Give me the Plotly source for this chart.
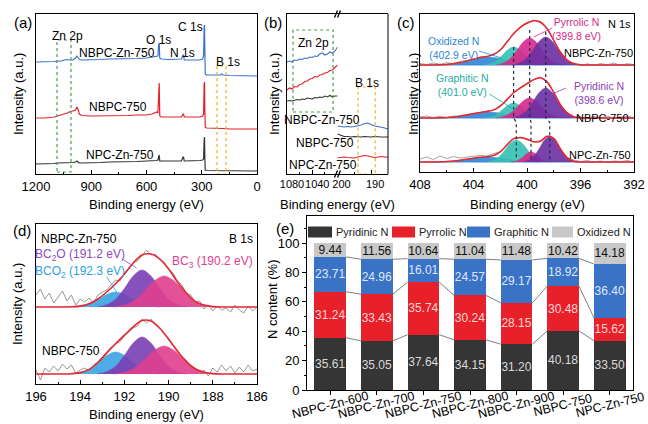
import plotly.graph_objects as go

W, H = 648, 424
FONT = "Arial, Liberation Sans, sans-serif"

# ---------------- (a) XPS survey ----------------
a_be = [1200, 1150, 1100, 1080, 1060, 1045, 1030, 1020, 1000, 985, 978, 972, 965, 950, 900, 850, 800, 750, 700, 650,
        600, 570, 545, 538, 534, 531, 528, 520, 480, 440, 410, 402, 399, 395, 380, 340, 310, 295, 290, 287,
        285, 283, 281, 275, 250, 220, 200, 192, 185, 150, 100, 50, 0]
a_nbpc_zn = [112, 112, 112.5, 113, 113, 114, 114.5, 114, 114, 116, 118, 116.5, 114.5, 114, 114, 114.5, 115, 115, 115.5, 115.5,
             116, 117, 118, 118, 129, 131, 116, 115, 114.5, 114.5, 115, 119, 119, 114, 114, 114, 114, 115, 118, 147,
             149, 124, 100, 99, 99, 99, 99, 100, 99, 98.5, 98.5, 98, 98]
a_nbpc = [56, 56, 57, 58, 59, 60, 61, 62, 63, 64, 67, 65, 60, 58.5, 58, 58, 58, 58.5, 58.5, 59,
          59, 60, 62, 61, 90, 91, 58, 57, 57, 57, 57, 60, 60, 57, 57, 57, 57, 58, 60, 90,
          92, 64, 47, 46, 46, 45.5, 45.5, 46, 45.5, 45, 45, 45, 45]
a_npc_zn = [10, 10, 10.5, 11, 11, 11.5, 11, 11, 11.5, 12, 13, 12, 11, 11, 11, 11.5, 12, 12, 12, 12.5,
            13, 13, 13.5, 14, 18, 19, 13, 13, 13, 13, 13, 17, 17, 13, 13, 13, 13.5, 14, 15, 34,
            37, 14, 4, 3.5, 3.5, 3.5, 3.5, 3.5, 3.5, 3, 3, 3, 3]

# ---------------- (b) zoomed survey (broken axis) ----------------
b_be_zn = [1080, 1076, 1072, 1068, 1064, 1060, 1056, 1052, 1048, 1044, 1040, 1036, 1032, 1028, 1024, 1020,
           1016, 1012, 1008, 1004, 1000]
b_zn_nbpc_zn = [112, 113, 112, 114, 113.5, 115, 114.5, 116, 115.5, 117, 116.5, 118, 117.5, 120, 121, 119,
                120, 122, 121, 123, 127]
b_zn_nbpc = [84, 86, 85, 87.5, 87, 89.5, 90, 92.5, 93, 95, 95.5, 97.5, 97, 99, 99.5, 101,
             101.5, 103.5, 104, 106.5, 109]
b_zn_npc_zn = [73, 73.5, 73, 74, 74.5, 74, 75, 74.5, 76, 75.5, 75, 76.5, 76, 77, 76.5, 78,
               77, 78.5, 77, 78, 78]
b_be_b = [200, 199, 198, 197, 196, 195, 194, 193, 192, 191, 190, 189, 188, 187, 186, 185]
b_b_nbpc_zn = [48, 47.5, 47, 47.5, 47, 47.5, 48, 49, 50.5, 51, 49.5, 48, 47.5, 47, 46, 45]
b_b_nbpc = [40, 38.5, 37.5, 37.5, 37, 37.5, 37, 37, 37.5, 37, 37, 37.5, 37, 37, 37, 37]
b_b_npc_zn = [16, 16.5, 17, 16.5, 16, 16, 17, 18, 18.5, 18, 17, 16.5, 17, 17.5, 17, 17]

# ---------------- (c) N 1s ----------------
c_be = [408, 407.5, 407, 406.5, 406, 405.5, 405, 404.5, 404, 403.5, 403, 402.5, 402, 401.5, 401, 400.5, 400,
        399.5, 399, 398.5, 398, 397.5, 397, 396.5, 396, 395.5, 395, 394.5, 394, 393.5, 393, 392.5, 392]
c_base = [107, 54, 10]          # NBPC-Zn-750, NBPC-750, NPC-Zn-750 offsets
c_env_top = [0, 0.05, 0.1, 0.25, 0.6, 1.3, 2.4, 4, 5.8, 7.4, 8.6, 10.5, 15, 22.9, 31.4, 37.7, 42,
             44.3, 43, 36.3, 24.7, 12.7, 4.9, 1.3, 0.3, 0, 0, 0, 0, 0, 0, 0, 0]
c_raw_top = [1.5, 0.5, 2, 0.8, 2.2, 1.5, 3.5, 4.8, 5.2, 8.2, 8, 11.5, 14.2, 23.8, 30.6, 38.5, 41.2,
             45, 42.2, 37, 24, 13.5, 4.2, 2, -0.5, 1.2, -0.3, 1.5, 0.2, 2, -0.4, 1.3, 0.5]
c_env_mid = [0, 0.03, 0.07, 0.2, 0.45, 1, 1.8, 3, 4.3, 5.5, 6.5, 8.1, 11.9, 18.4, 25.2, 30.1, 34.2,
             38.4, 40.2, 36.1, 25.5, 13.4, 5.1, 1.4, 0.3, 0, 0, 0, 0, 0, 0, 0, 0]
c_raw_mid = [1, 2, 0.5, 1.8, 0.3, 1.8, 2.2, 3.6, 4.8, 5, 7.2, 7.6, 12.8, 17.6, 26, 29.4, 35,
             37.8, 41, 35.4, 26.2, 12.8, 5.8, 1, 1.2, -0.4, 1.5, 0.3, 1.8, -0.2, 1.2, 1.8, 0.4]
c_env_bot = [0, 0.02, 0.07, 0.18, 0.44, 0.9, 1.7, 2.7, 3.8, 4.7, 5.3, 6.5, 10.2, 17.1, 23.4, 24.3, 22.7,
             20.2, 20.6, 25.7, 23.6, 13, 4.2, 0.8, 0.1, 0, 0, 0, 0, 0, 0, 0, 0]
c_raw_bot = [3, 5, 2.5, 6, 3.5, 5.5, 4, 5, 5.5, 6.5, 6, 8, 10.5, 16.5, 23, 25, 23.5,
             20, 21.5, 26, 23.5, 13.5, 4.5, 2, 0.5, 1.5, 0, 1, -0.5, 1, 0.5, 1.5, 0]
# fitted components (top & middle share positions)
c_x_oxid = [406.9, 406.1, 405.3, 404.5, 403.7, 402.9, 402.1, 401.3, 400.5, 399.7, 398.9]
c_x_graph = [403.25, 402.8, 402.35, 401.9, 401.45, 401.0, 400.55, 400.1, 399.65, 399.2, 398.75]
c_x_pyrr = [402.3, 401.8, 401.3, 400.8, 400.3, 399.8, 399.3, 398.8, 398.3, 397.8, 397.3]
c_x_pyrid = [401.1, 400.6, 400.1, 399.6, 399.1, 398.6, 398.1, 397.6, 397.1, 396.6, 396.1]
c_top_oxid = [0, 0.5, 1.7, 4, 6.7, 8, 6.7, 4, 1.7, 0.5, 0]
c_top_graph = [0, 1.1, 3.8, 9, 15.1, 18, 15.1, 9, 3.8, 1.1, 0]
c_top_pyrr = [0, 1.7, 5.7, 13.5, 22.7, 27, 22.7, 13.5, 5.7, 1.7, 0]
c_top_pyrid = [0, 1.75, 5.9, 14, 23.5, 28, 23.5, 14, 5.9, 1.75, 0]
c_mid_oxid = [0, 0.4, 1.3, 3, 5, 6, 5, 3, 1.3, 0.4, 0]
c_mid_graph = [0, 0.9, 3.2, 7.5, 12.6, 15, 12.6, 7.5, 3.2, 0.9, 0]
c_mid_pyrr = [0, 1.25, 4.2, 10, 16.8, 20, 16.8, 10, 4.2, 1.25, 0]
c_mid_pyrid = [0, 1.9, 6.3, 15, 25.2, 30, 25.2, 15, 6.3, 1.9, 0]
c_xb_oxid = [407.0, 406.2, 405.4, 404.6, 403.8, 403.0, 402.2, 401.4, 400.6, 399.8, 399.0]
c_xb_graph = [403.05, 402.6, 402.15, 401.7, 401.25, 400.8, 400.35, 399.9, 399.45, 399.0, 398.55]
c_xb_pyrr = [401.2, 400.9, 400.6, 400.3, 400.0, 399.7, 399.4, 399.1, 398.8, 398.5, 398.2]
c_xb_pyrid = [400.3, 399.9, 399.5, 399.1, 398.7, 398.3, 397.9, 397.5, 397.1, 396.7, 396.3]
c_bot_oxid = [0, 0.3, 1.05, 2.5, 4.2, 5, 4.2, 2.5, 1.05, 0.3, 0]
c_bot_graph = [0, 1.4, 4.6, 11, 18.5, 22, 18.5, 11, 4.6, 1.4, 0]
c_bot_pyrr = [0, 0.6, 2.1, 5, 8.4, 10, 8.4, 5, 2.1, 0.6, 0]
c_bot_pyrid = [0, 1.6, 5.5, 13, 21.8, 26, 21.8, 13, 5.5, 1.6, 0]
c_peak_top = [401.0, 399.8, 398.6]
c_peak_bot = [400.8, 399.7, 398.3]

# ---------------- (d) B 1s ----------------
d_be = [196.0, 195.8, 195.6, 195.4, 195.2, 195.0, 194.8, 194.6, 194.4, 194.2, 194.0, 193.8, 193.6, 193.4, 193.2,
        193.0, 192.8, 192.6, 192.4, 192.2, 192.0, 191.8, 191.6, 191.4, 191.2, 191.0, 190.8, 190.6, 190.4, 190.2,
        190.0, 189.8, 189.6, 189.4, 189.2, 189.0, 188.8, 188.6, 188.4, 188.2, 188.0, 187.8, 187.6, 187.4, 187.2,
        187.0, 186.8, 186.6, 186.4, 186.2, 186.0]
d_base = [77, 10]               # NBPC-Zn-750, NBPC-750 offsets
d_raw_top = [12, 18, 8, 14, 4, 10, 16, 6, 12, 2, 8, 5, 9, 4, 12, 15, 17, 22, 27, 26, 34, 38, 44, 46, 52,
             57, 52, 53, 47, 45, 38, 34, 26, 22, 14, 12, 5, 6, -2, 2, -4, 1, -3, -1, -5, 2, -3, -6, 1, -4, 0]
d_raw_bot = [4, -6, 6, 2, 8, 3, 10, 5, 9, 1, 4, 6, 3, 9, 12, 17, 22, 27, 30, 32, 38, 42, 46, 48, 55,
             51, 55, 49, 46, 40, 36, 28, 24, 17, 14, 7, 6, 1, 4, -2, 6, 2, 9, 3, 8, 1, 7, 2, 9, 3, 5]
d_env_x = [196, 195, 194.4, 194.0, 193.6, 193.2, 192.8, 192.4, 192.0, 191.6, 191.2, 190.8, 190.4, 190.0,
           189.6, 189.2, 188.8, 188.4, 188.0, 187.5, 186]
d_env_top = [0, 0, 0.2, 0.9, 3.2, 8, 15, 23.3, 33, 44, 52, 53, 48, 38, 25, 14, 5.7, 1.9, 0.4, 0, 0]
d_env_bot = [0, 0, 0.3, 1.4, 4.6, 11.5, 20.9, 30.3, 38.8, 47.2, 53.5, 52.9, 45.8, 34.8, 22.8, 12.4, 5.2, 1.75, 0.4, 0, 0]
d_x_bco2 = [194.4, 194.0, 193.6, 193.2, 192.8, 192.4, 192.0, 191.6, 191.2, 190.8, 190.4]
d_x_bc2o = [193.2, 192.8, 192.4, 192.0, 191.6, 191.2, 190.8, 190.4, 190.0, 189.6, 189.2]
d_x_bc3 = [192.45, 192.0, 191.55, 191.1, 190.65, 190.2, 189.75, 189.3, 188.85, 188.4, 187.95]
d_top_bco2 = [0, 0.9, 3.2, 7.5, 12.6, 15, 12.6, 7.5, 3.2, 0.9, 0]
d_top_bc2o = [0, 2.3, 7.8, 18.5, 31, 37, 31, 18.5, 7.8, 2.3, 0]
d_top_bc3 = [0, 1.9, 6.5, 15.5, 26, 31, 26, 15.5, 6.5, 1.9, 0]
d_bot_bco2 = [0, 1.4, 4.6, 11, 18.5, 22, 18.5, 11, 4.6, 1.4, 0]
d_bot_bc2o = [0, 2.3, 7.8, 18.5, 31, 37, 31, 18.5, 7.8, 2.3, 0]
d_bot_bc3 = [0, 1.75, 5.9, 14, 23.5, 28, 23.5, 14, 5.9, 1.75, 0]

# ---------------- (e) N content ----------------
e_samples = ["NBPC-Zn-600", "NBPC-Zn-700", "NBPC-Zn-750", "NBPC-Zn-800", "NBPC-Zn-900", "NBPC-750", "NPC-Zn-750"]
e_pyridinic = [35.61, 35.05, 37.64, 34.15, 31.20, 40.18, 33.50]
e_pyrrolic = [31.24, 33.43, 35.74, 30.24, 28.15, 30.48, 15.62]
e_graphitic = [23.71, 24.96, 16.01, 24.57, 29.17, 18.92, 36.40]
e_oxidized = [9.44, 11.56, 10.64, 11.04, 11.48, 10.42, 14.18]

# =========================================================
BLUE, RED, DARK = "#3b73c6", "#e42129", "#333333"
C_OXID, C_GRAPH, C_PYRR, C_PYRID = "#2f86d6", "#35c0b2", "#d8288c", "#6b2fa3"
D_BCO2, D_BC2O, D_BC3 = "#3aa3e3", "#7a3fb3", "#e0408f"
ENV = "#e8262d"
GRAY = "#8c8c8c"

fig = go.Figure()


def line(x, y, color, width, xa, ya, shape="linear", dash=None):
    fig.add_trace(go.Scatter(x=x, y=y, mode="lines", line=dict(color=color, width=width, shape=shape, dash=dash),
                             xaxis=xa, yaxis=ya, showlegend=False, hoverinfo="skip"))


def comp(x, rel, base, color, xa, ya):
    fig.add_trace(go.Scatter(x=x, y=[base + v for v in rel], mode="lines", fill="toself", fillcolor=color,
                             line=dict(color=color, width=0.6, shape="spline"), opacity=0.9,
                             xaxis=xa, yaxis=ya, showlegend=False, hoverinfo="skip"))


# (a)
for ys, col in [(a_nbpc_zn, BLUE), (a_nbpc, RED), (a_npc_zn, DARK)]:
    line(a_be, ys, col, 1.2, "x", "y")

# (b)
for ys, col in [(b_zn_nbpc_zn, BLUE), (b_zn_nbpc, RED), (b_zn_npc_zn, DARK)]:
    line(b_be_zn, ys, col, 1.1, "x2", "y2")
for ys, col in [(b_b_nbpc_zn, BLUE), (b_b_nbpc, DARK), (b_b_npc_zn, RED)]:
    line(b_be_b, ys, col, 1.1, "x3", "y2")

# (c)
c_sets = [
    (c_base[0], [(c_x_oxid, c_top_oxid, C_OXID), (c_x_graph, c_top_graph, C_GRAPH),
                 (c_x_pyrr, c_top_pyrr, C_PYRR), (c_x_pyrid, c_top_pyrid, C_PYRID)], c_env_top, c_raw_top),
    (c_base[1], [(c_x_oxid, c_mid_oxid, C_OXID), (c_x_graph, c_mid_graph, C_GRAPH),
                 (c_x_pyrr, c_mid_pyrr, C_PYRR), (c_x_pyrid, c_mid_pyrid, C_PYRID)], c_env_mid, c_raw_mid),
    (c_base[2], [(c_xb_oxid, c_bot_oxid, C_OXID), (c_xb_graph, c_bot_graph, C_GRAPH),
                 (c_xb_pyrr, c_bot_pyrr, C_PYRR), (c_xb_pyrid, c_bot_pyrid, C_PYRID)], c_env_bot, c_raw_bot),
]
for base, comps, env, raw in c_sets:
    line([c_be[0], c_be[-1]], [base, base], "#4a8fe0", 1.0, "x4", "y4")
    for xs, rel, col in comps:
        comp(xs, rel, base, col, "x4", "y4")
    line(c_be, [base + v for v in raw], GRAY, 0.8, "x4", "y4")
    line(c_be, [base + v for v in env], ENV, 1.5, "x4", "y4", shape="spline")
# dotted peak-position guides
for top_be, bot_be, y_top in zip(c_peak_top, c_peak_bot, [125, 142, 140]):
    line([top_be, top_be, bot_be, bot_be], [y_top, c_base[1], c_base[1] - 4, c_base[2] + 2],
         "#1d2f4a", 1.2, "x4", "y4", dash="dot")

# (d)
d_sets = [
    (d_base[0], [(d_x_bco2, d_top_bco2, D_BCO2), (d_x_bc2o, d_top_bc2o, D_BC2O), (d_x_bc3, d_top_bc3, D_BC3)],
     d_env_top, d_raw_top),
    (d_base[1], [(d_x_bco2, d_bot_bco2, D_BCO2), (d_x_bc2o, d_bot_bc2o, D_BC2O), (d_x_bc3, d_bot_bc3, D_BC3)],
     d_env_bot, d_raw_bot),
]
for base, comps, env, raw in d_sets:
    for xs, rel, col in comps:
        comp(xs, rel, base, col, "x5", "y5")
    line(d_be, [base + v for v in raw], GRAY, 0.9, "x5", "y5")
    line(d_env_x, [base + v for v in env], ENV, 1.6, "x5", "y5", shape="spline")

# (e)
totals = [a + b + c + d for a, b, c, d in zip(e_pyridinic, e_pyrrolic, e_graphitic, e_oxidized)]
xpos = list(range(len(e_samples)))
BW = 0.68
series = [("Pyridinic N", e_pyridinic, "#353535", "#d9d9d9"),
          ("Pyrrolic N", e_pyrrolic, "#e8202a", "#ffd6d6"),
          ("Graphitic N", e_graphitic, "#3a72c6", "#dfe8fb"),
          ("Oxidized N", e_oxidized, "#c8c8c8", "#111111")]
cum = [0.0] * len(xpos)
levels = []
for name, vals, col, tcol in series:
    norm = [v / t * 100 for v, t in zip(vals, totals)]
    fig.add_trace(go.Bar(x=xpos, y=norm, name=name, width=BW, marker=dict(color=col, line=dict(width=0)),
                         text=[f"{v:.2f}" for v in vals], textposition="inside", insidetextanchor="middle",
                         constraintext="none", textangle=0, showlegend=False,
                         textfont=dict(color=tcol, size=12, family=FONT), xaxis="x6", yaxis="y6",
                         hoverinfo="skip"))
    cum = [c + n for c, n in zip(cum, norm)]
    levels.append(list(cum))
for lev in levels[:3]:
    xs, ys = [], []
    for i in range(len(xpos) - 1):
        xs += [xpos[i] + BW / 2, xpos[i + 1] - BW / 2, None]
        ys += [lev[i], lev[i + 1], None]
    line(xs, ys, "#707070", 0.9, "x6", "y6")

# ---------------- layout ----------------
ax = dict(showline=True, linecolor="black", linewidth=1, mirror=True, showgrid=False, zeroline=False,
          ticks="inside", ticklen=4, tickwidth=1, tickcolor="black", automargin=False, tickangle=0,
          tickfont=dict(size=13, color="black", family=FONT))
yb = dict(showline=True, linecolor="black", linewidth=1, mirror=True, showgrid=False, zeroline=False,
          ticks="", showticklabels=False, automargin=False)
mn = dict(ticks="inside", ticklen=2, tickcolor="black")
top_dom = [1 - 174 / H, 1 - 14 / H]
bfont = dict(size=11, color="black", family=FONT)

fig.update_layout(
    width=W, height=H, margin=dict(l=0, r=0, t=0, b=0, autoexpand=False),
    paper_bgcolor="white", plot_bgcolor="white",
    font=dict(family=FONT, color="black"),
    barmode="stack", showlegend=False,
    xaxis=dict(ax, domain=[36 / W, 257 / W], range=[1200, 0], anchor="y", dtick=300, tick0=0,
               minor=dict(mn, dtick=150, tick0=0)),
    yaxis=dict(yb, domain=top_dom, range=[0, 160], anchor="x"),
    xaxis2=dict(ax, domain=[287 / W, 337.5 / W], range=[1080, 1000], anchor="y2", tickmode="array",
                tickvals=[1080, 1040], ticklabelshift=-5, tickfont=bfont,
                minor=dict(mn, tickmode="array", tickvals=[1060, 1020])),
    xaxis3=dict(ax, domain=[337.5 / W, 388 / W], range=[200, 185], anchor="y2", tickmode="array",
                tickvals=[200, 190], ticklabelshift=-4, tickfont=bfont,
                minor=dict(mn, tickmode="array", tickvals=[195, 185])),
    yaxis2=dict(yb, mirror=False, domain=top_dom, range=[0, 160], anchor="x2"),
    xaxis4=dict(ax, domain=[420 / W, 634 / W], range=[408, 392], anchor="y4", dtick=4, tick0=392,
                minor=dict(mn, dtick=2, tick0=392)),
    yaxis4=dict(yb, domain=[1 - 172 / H, 1 - 14 / H], range=[0, 158], anchor="x4"),
    xaxis5=dict(ax, domain=[36 / W, 257 / W], range=[196, 186], anchor="y5", dtick=2, tick0=186,
                minor=dict(mn, dtick=1, tick0=186)),
    yaxis5=dict(yb, domain=[1 - 384 / H, 1 - 224 / H], range=[0, 160], anchor="x5"),
    xaxis6=dict(ax, domain=[307 / W, 633 / W], range=[-0.5, 6.5], anchor="y6", tickmode="array",
                tickvals=xpos, showticklabels=False, ticks="outside"),
    yaxis6=dict(ax, domain=[1 - 390 / H, 1 - 216 / H], range=[0, 118.4], anchor="x6", dtick=20, tick0=0,
                ticks="outside", minor=dict(dtick=10, ticks="outside", ticklen=2, tickcolor="black")),
)

# ---------------- annotations ----------------
anns = []


def txt(t, x, y, size=12, color="black", angle=0, xanchor="center"):
    anns.append(dict(text=t, x=x / W, y=1 - y / H, xref="paper", yref="paper", showarrow=False,
                     font=dict(size=size, color=color, family=FONT), textangle=angle,
                     xanchor=xanchor, yanchor="middle", align="center"))


for t, x, y in [("(a)", 23, 23), ("(b)", 273, 23), ("(c)", 406, 23), ("(d)", 22, 231), ("(e)", 285, 228)]:
    txt(t, x, y, size=15)
for x, y in [(18, 94), (274, 94), (413, 94), (17, 304)]:
    txt("Intensity (a.u.)", x, y, size=13, angle=-90)
txt("N content (%)", 272, 300, size=13, angle=-90)
for x, y in [(146, 204), (337, 204), (527, 204), (146, 414)]:
    txt("Binding energy (eV)", x, y, size=13)

# (a)
for t, x, y in [("Zn 2p", 67, 36), ("NBPC-Zn-750", 117, 53), ("O 1s", 158, 40), ("N 1s", 183, 53),
                ("C 1s", 191, 27), ("B 1s", 228, 62), ("NBPC-750", 118, 107), ("NPC-Zn-750", 120, 155)]:
    txt(t, x, y, size=12)
# (b)
for t, x, y in [("Zn 2p", 313, 43), ("B 1s", 367, 83), ("NBPC-Zn-750", 322, 120), ("NBPC-750", 325, 143),
                ("NPC-Zn-750", 323, 165)]:
    txt(t, x, y, size=12)
# (c)
for t, x, y, c in [("Oxidized N<br>(402.9 eV)", 453, 47.5, C_OXID),
                   ("Pyrrolic N<br>(399.8 eV)", 576, 28.5, C_PYRR),
                   ("Graphitic N<br>(401.0 eV)", 462.5, 85, "#26ad9f"),
                   ("Pyridinic N<br>(398.6 eV)", 598.5, 93, "#8a3cb8")]:
    txt(t, x, y, size=10.5, color=c)
for t, x, y in [("N 1s", 619, 24), ("NBPC-Zn-750", 598, 53), ("NBPC-750", 602, 118), ("NPC-Zn-750", 600, 155)]:
    txt(t, x, y, size=11)
# (d)
for t, x, y, c in [("NBPC-Zn-750", 79, 239, "black"), ("B 1s", 241, 239, "black"),
                   ("BC<sub>2</sub>O (191.2 eV)", 80, 255, "#8a4ac0"),
                   ("BCO<sub>2</sub> (192.3 eV)", 80, 272, "#2f9fe0"),
                   ("BC<sub>3</sub> (190.2 eV)", 212, 262, D_BC3), ("NBPC-750", 71, 351, "black")]:
    txt(t, x, y, size=12, color=c)

# (e) slanted category labels, centred under each bar
for i, name in zip(xpos, e_samples):
    anns.append(dict(text=name, x=i, xref="x6", y=1 - 405 / H, yref="paper", showarrow=False,
                     textangle=-14, font=dict(size=12.5, color="black", family=FONT),
                     xanchor="center", yanchor="middle"))

# (e) legend: swatches + labels
legend_items = [(308, 332, 334), (392, 415, 417), (467, 490, 492), (552, 573, 575)]
shapes = []
for (name, vals, col, tcol), (sx0, sx1, tx) in zip(series, legend_items):
    shapes.append(dict(type="rect", xref="paper", yref="paper", x0=sx0 / W, x1=sx1 / W,
                       y0=1 - 237.5 / H, y1=1 - 226.5 / H, fillcolor=col, line=dict(width=0)))
    txt(name, tx, 232, size=11, color="#222", xanchor="left")

fig.update_layout(annotations=anns)

# ---------------- shapes (boxes, leaders, break marks) ----------------
shapes += [
    dict(type="rect", xref="x", yref="y", x0=1086, x1=1010, y0=2, y1=134,
         line=dict(color="#4f9a4f", width=1.2, dash="dot")),
    dict(type="rect", xref="x", yref="y", x0=217, x1=168, y0=0, y1=108,
         line=dict(color="#f0b020", width=1.2, dash="dot")),
    dict(type="rect", xref="x2", yref="y2", x0=1070.5, x1=1007, y0=62, y1=144,
         line=dict(color="#4f9a4f", width=1.2, dash="dot")),
    dict(type="rect", xref="x3", yref="y2", x0=193.9, x1=188.8, y0=0, y1=87,
         line=dict(color="#f0b020", width=1.2, dash="dot")),
    dict(type="line", xref="paper", yref="paper", x0=388 / W, x1=388 / W, y0=top_dom[0], y1=top_dom[1],
         line=dict(color="black", width=1)),
    # leaders (c)
    dict(type="line", xref="x4", yref="y4", x0=403.6, y0=121, x1=401.9, y1=114, line=dict(color=C_OXID, width=0.8)),
    dict(type="line", xref="x4", yref="y4", x0=398.1, y0=144, x1=399.5, y1=135, line=dict(color=C_PYRR, width=0.8)),
    dict(type="line", xref="x4", yref="y4", x0=402.8, y0=78, x1=400.8, y1=61, line=dict(color="#26ad9f", width=0.8)),
    dict(type="line", xref="x4", yref="y4", x0=397.1, y0=84, x1=398.1, y1=78, line=dict(color="#8a3cb8", width=0.8)),
    # leaders (d)
    dict(type="line", xref="x5", yref="y5", x0=192.1, y0=125, x1=191.45, y1=116, line=dict(color="#8a4ac0", width=0.8)),
    dict(type="line", xref="x5", yref="y5", x0=192.8, y0=107, x1=192.35, y1=92, line=dict(color="#2f9fe0", width=0.8)),
]
for yb_px in (14, 174):
    for dx in (-1.5, 1.5):
        shapes.append(dict(type="line", xref="paper", yref="paper",
                           x0=(337.5 + dx - 1.5) / W, x1=(337.5 + dx + 1.5) / W,
                           y0=1 - (yb_px + 3.5) / H, y1=1 - (yb_px - 3.5) / H,
                           line=dict(color="black", width=1.3)))
fig.update_layout(shapes=shapes)

fig.write_html("out.html", config={"displayModeBar": False},
               post_script="document.body.style.margin='0';document.body.style.padding='0';")
